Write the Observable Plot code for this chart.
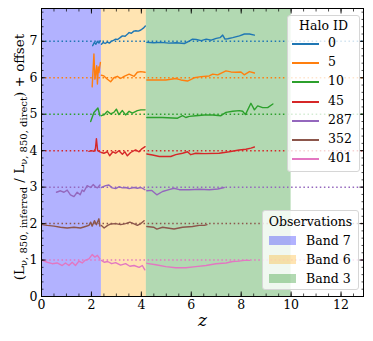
<!DOCTYPE html>
<html><head><meta charset="utf-8">
<script src="https://cdn.jsdelivr.net/npm/d3@7"></script>
<script src="https://cdn.jsdelivr.net/npm/@observablehq/plot@0.6"></script>
<style>
body{margin:0;background:#fff;}
#wrap{position:relative;width:373px;height:341px;font-family:"DejaVu Serif",serif;color:#000;}
.legend{position:absolute;background:rgba(255,255,255,0.8);border:1px solid #d6d6d6;border-radius:3px;box-sizing:border-box;font-size:12.5px;}
.legend .title{position:absolute;left:0;right:0;text-align:center;line-height:1;}
.legend .row{position:absolute;left:0;right:0;height:19px;}
.legend .lab{position:absolute;line-height:1;}
</style></head><body><div id="wrap"></div><script>
// Halo series (ratio L_inferred / L_direct, plotted with offset)
const haloIds = ["0", "5", "10", "45", "287", "352", "401"];
const haloColors = ["#1f77b4", "#ff7f0e", "#2ca02c", "#d62728", "#9467bd", "#8c564b", "#e377c2"];
const offsets = [7, 6, 5, 4, 3, 2, 1];

const z_0 = [2.05,2.12,2.18,2.24,2.30,2.36, 2.40,2.47,2.55,2.64,2.72,2.80,2.90,2.97,3.05,3.15,3.24,3.35,3.45,3.51,3.60,3.70,3.78,3.88,3.98,4.08,4.16, 4.22,4.5,4.8,5.1,5.4,5.72,5.9,6.05,6.2,6.4,6.6,6.8,7.0,7.15,7.26,7.35,7.46,7.66,7.93,8.13,8.33,8.53];
const r_0 = [-0.12,-0.03,-0.08,0.00,-0.05,0.01, -0.08,-0.03,-0.06,-0.02,-0.05,0.00,0.03,0.06,0.05,0.10,0.15,0.14,0.20,0.24,0.22,0.28,0.29,0.28,0.31,0.36,0.42, -0.03,-0.04,-0.03,-0.05,-0.04,-0.06,0.00,0.06,0.05,0.02,0.06,0.03,0.08,0.10,0.17,0.06,0.07,0.10,0.15,0.20,0.20,0.17];

const z_5 = [2.03,2.10,2.14,2.21,2.24,2.28,2.30,2.36, 2.40,2.50,2.64,2.77,2.90,3.04,3.17,3.31,3.51,3.71,3.84,3.98,4.15, 4.22,4.98,5.38,5.58,5.85,6.12,6.39,6.72,6.86,7.06,7.39,7.59,7.79,7.99,8.12,8.33,8.53];
const r_5 = [-0.25,0.65,-0.04,0.33,-0.17,0.30,0.14,0.42, 0.07,0.05,-0.04,-0.11,0.00,0.04,-0.02,0.04,0.10,0.04,0.15,0.17,0.15, -0.06,-0.06,-0.02,-0.06,-0.09,0.00,0.03,0.05,0.10,0.08,0.19,0.16,0.15,0.16,0.08,0.17,0.13];

const z_10 = [1.97,2.10,2.17,2.26,2.34, 2.40,2.50,2.64,2.77,2.90,3.00,3.10,3.24,3.37,3.51,3.64,3.84,3.98,4.15, 4.22,4.85,5.45,5.65,5.78,5.92,6.18,6.52,6.86,7.19,7.39,7.66,7.92,8.06,8.17,8.39,8.53,8.66,8.86,9.06,9.27];
const r_10 = [-0.20,0.05,0.10,0.17,-0.04, -0.04,-0.02,0.08,0.01,0.05,0.14,-0.01,0.10,-0.02,0.08,0.03,0.10,0.12,0.12, -0.09,-0.09,-0.11,-0.04,-0.09,-0.06,-0.04,-0.02,-0.02,-0.04,0.05,0.08,0.10,0.08,-0.01,0.30,0.12,0.23,0.18,0.18,0.28];

const z_45 = [1.90,2.00,2.10,2.16,2.20,2.25,2.30,2.36, 2.40,2.50,2.64,2.73,2.86,2.97,3.10,3.24,3.34,3.44,3.57,3.77,3.91,4.02,4.15, 4.22,4.45,4.72,5.18,5.38,5.65,5.85,5.98,6.18,6.52,7.12,7.52,7.92,8.19,8.39,8.53];
const r_45 = [-0.02,0.00,-0.02,0.05,0.33,0.00,-0.02,-0.04, -0.05,-0.07,-0.03,-0.14,-0.03,-0.07,0.00,-0.10,-0.03,-0.14,-0.05,0.02,-0.03,0.05,0.11, -0.09,-0.12,-0.16,-0.16,-0.11,-0.07,-0.03,-0.11,-0.07,-0.08,-0.07,-0.03,0.02,0.04,0.07,0.10];

const z_287 = [0.60,0.76,0.90,1.03,1.16,1.30,1.43,1.55,1.63,1.70,1.83,1.97,2.07,2.16,2.24,2.34, 2.40,2.57,2.70,2.83,2.97,3.10,3.24,3.37,3.51,3.71,3.84,3.98,4.14, 4.22,4.42,4.62,4.85,5.11,5.31,5.52,5.92,6.32,6.72,7.06,7.32];
const r_287 = [-0.14,-0.10,-0.14,-0.08,-0.21,-0.26,-0.14,-0.21,-0.08,-0.12,0.04,-0.01,0.07,0.01,-0.02,0.06, -0.01,0.04,0.06,-0.02,-0.04,0.01,-0.02,-0.01,-0.04,-0.01,-0.03,-0.01,-0.07, -0.10,-0.09,-0.21,-0.12,-0.07,-0.03,-0.07,-0.07,-0.06,-0.07,-0.05,-0.01];

const z_352 = [0.03,0.23,0.50,0.76,1.03,1.30,1.56,1.76,1.90,1.97,2.03,2.12,2.20,2.30,2.34, 2.40,2.51,2.65,2.78,2.97,3.17,3.37,3.54,3.71,3.84,3.98,4.11, 4.22,4.49,4.62,4.85,5.31,5.65,6.05,6.32,6.52,6.63];
const r_352 = [-0.03,-0.05,-0.07,-0.10,-0.12,-0.10,-0.12,-0.08,-0.05,0.04,-0.07,0.08,-0.03,0.13,-0.07, -0.05,-0.12,-0.05,-0.01,0.00,-0.03,0.00,0.04,-0.01,-0.05,0.00,0.08, -0.08,-0.10,-0.15,-0.10,-0.15,-0.10,-0.08,-0.05,-0.05,-0.03];

const z_401 = [0.03,0.23,0.43,0.63,0.83,0.96,1.10,1.23,1.36,1.50,1.63,1.76,1.90,2.03,2.14,2.24,2.34, 2.40,2.51,2.65,2.81,2.97,3.17,3.37,3.54,3.71,3.91,4.04,4.14, 4.22,4.58,4.98,5.38,5.78,6.18,6.59,6.99,7.39,7.66,7.92,8.12,8.33];
const r_401 = [-0.01,-0.06,-0.10,-0.08,-0.15,-0.08,-0.15,-0.06,-0.15,-0.03,-0.08,0.00,0.03,0.15,0.08,0.13,0.03, -0.01,-0.06,-0.04,-0.10,-0.07,-0.14,-0.10,-0.17,-0.15,-0.20,-0.15,-0.27, -0.09,-0.13,-0.18,-0.21,-0.21,-0.18,-0.15,-0.10,-0.08,-0.04,-0.03,-0.01,-0.01];

const haloZ = [z_0, z_5, z_10, z_45, z_287, z_352, z_401];
const haloR = [r_0, r_5, r_10, r_45, r_287, r_352, r_401];

// Observation bands
const bandNames = ["Band 7", "Band 6", "Band 3"];
const bandStarts = [0, 2.4, 4.2];
const bandEnds = [2.4, 4.2, 10];
const bandColors = ["blue", "orange", "green"];

// Ticks
const xTicks = [0, 2, 4, 6, 8, 10, 12];
const yTicks = [0, 1, 2, 3, 4, 5, 6, 7];
const xMinor = d3.range(0, 26).map(i => i * 0.5);
const yMinor = d3.range(0, 40).map(i => +(i * 0.2).toFixed(1));

// Build tables
const bandOf = z => z < bandStarts[1] ? 0 : (z < bandStarts[2] ? 1 : 2);
const points = [];
haloIds.forEach((id, i) => {
  haloZ[i].forEach((z, j) => {
    points.push({z, v: haloR[i][j] + offsets[i], key: id + "-" + bandOf(z), color: haloColors[i]});
  });
});
const bands = bandNames.map((n, i) => ({x1: bandStarts[i], x2: bandEnds[i], color: bandColors[i]}));
const refs = haloIds.map((id, i) => ({y: offsets[i], color: haloColors[i]}));

const blank = () => "";
const chart = Plot.plot({
  width: 373, height: 341,
  marginLeft: 41, marginRight: 10, marginTop: 8, marginBottom: 45,
  x: {domain: [0, 12.9]},
  y: {domain: [0, 7.9]},
  color: {type: "identity"},
  style: {fontFamily: "DejaVu Serif", fontSize: "12.5px", color: "black", background: "white"},
  marks: [
    Plot.rect(bands, {x1: "x1", x2: "x2", fill: "color", fillOpacity: 0.3}),
    Plot.ruleY(refs, {y: "y", stroke: "color", strokeWidth: 1.5, strokeDasharray: "1.5,2.6"}),
    Plot.line(points, {x: "z", y: "v", z: "key", stroke: "color", strokeWidth: 1.4}),
    Plot.frame({stroke: "black", strokeWidth: 1}),
    Plot.axisX({anchor: "bottom", ticks: xTicks, tickSize: -4.5, tickPadding: 8.5, label: null, strokeWidth: 0.9}),
    Plot.axisX({anchor: "bottom", ticks: xMinor, tickSize: -2.5, tickFormat: blank, label: null, strokeWidth: 0.7}),
    Plot.axisX({anchor: "top", ticks: xTicks, tickSize: -4.5, tickFormat: blank, label: null, strokeWidth: 0.9}),
    Plot.axisX({anchor: "top", ticks: xMinor, tickSize: -2.5, tickFormat: blank, label: null, strokeWidth: 0.7}),
    Plot.axisY({anchor: "left", ticks: yTicks, tickSize: -4.5, tickPadding: 8.5, label: null, strokeWidth: 0.9}),
    Plot.axisY({anchor: "left", ticks: yMinor, tickSize: -2.5, tickFormat: blank, label: null, strokeWidth: 0.7}),
    Plot.axisY({anchor: "right", ticks: yTicks, tickSize: -4.5, tickFormat: blank, label: null, strokeWidth: 0.9}),
    Plot.axisY({anchor: "right", ticks: yMinor, tickSize: -2.5, tickFormat: blank, label: null, strokeWidth: 0.7}),
    Plot.text(["z"], {text: d => d, frameAnchor: "bottom", dy: 29, fontStyle: "italic", fontSize: 17, fontFamily: "DejaVu Serif"})
  ]
});

const wrap = document.getElementById("wrap");
wrap.appendChild(chart);

// y-axis label with subscripts
const svg = d3.select(chart);
const t = svg.append("text")
  .attr("transform", "translate(24,157) rotate(-90)")
  .attr("text-anchor", "middle")
  .attr("font-family", "DejaVu Serif")
  .attr("font-size", 13.5)
  .attr("fill", "black");
t.append("tspan").text("(L");
t.append("tspan").attr("font-size", 10).attr("dy", 3).text("\u03bd, 850, inferred");
t.append("tspan").attr("dy", -3).text(" / L");
t.append("tspan").attr("font-size", 10).attr("dy", 3).text("\u03bd, 850, direct");
t.append("tspan").attr("dy", -3).text(") + offset");

// Legend: Halo ID
const leg1 = document.createElement("div");
leg1.className = "legend";
Object.assign(leg1.style, {left: "287px", top: "15px", width: "73px", height: "157px"});
leg1.innerHTML = `<div class="title" style="top:4px">Halo ID</div>`;
haloIds.forEach((id, i) => {
  const row = document.createElement("div");
  row.className = "row";
  row.style.top = (18 + i * 19.2) + "px";
  row.innerHTML = `<div style="position:absolute;left:4px;top:9px;width:27px;height:0;border-top:2px solid ${haloColors[i]}"></div><div class="lab" style="left:40px;top:3px">${id}</div>`;
  leg1.appendChild(row);
});
wrap.appendChild(leg1);

// Legend: Observations
const bandRGB = {blue: "rgba(0,0,255,0.3)", orange: "rgba(255,165,0,0.3)", green: "rgba(0,128,0,0.3)"};
const leg2 = document.createElement("div");
leg2.className = "legend";
Object.assign(leg2.style, {left: "262px", top: "210px", width: "97px", height: "80px"});
leg2.innerHTML = `<div class="title" style="top:5px">Observations</div>`;
bandNames.forEach((n, i) => {
  const row = document.createElement("div");
  row.className = "row";
  row.style.top = (21 + i * 19) + "px";
  row.innerHTML = `<div style="position:absolute;left:6px;top:4px;width:27px;height:9px;background:${bandRGB[bandColors[i]]}"></div><div class="lab" style="left:43px;top:3px">${n}</div>`;
  leg2.appendChild(row);
});
wrap.appendChild(leg2);
</script></body></html>
